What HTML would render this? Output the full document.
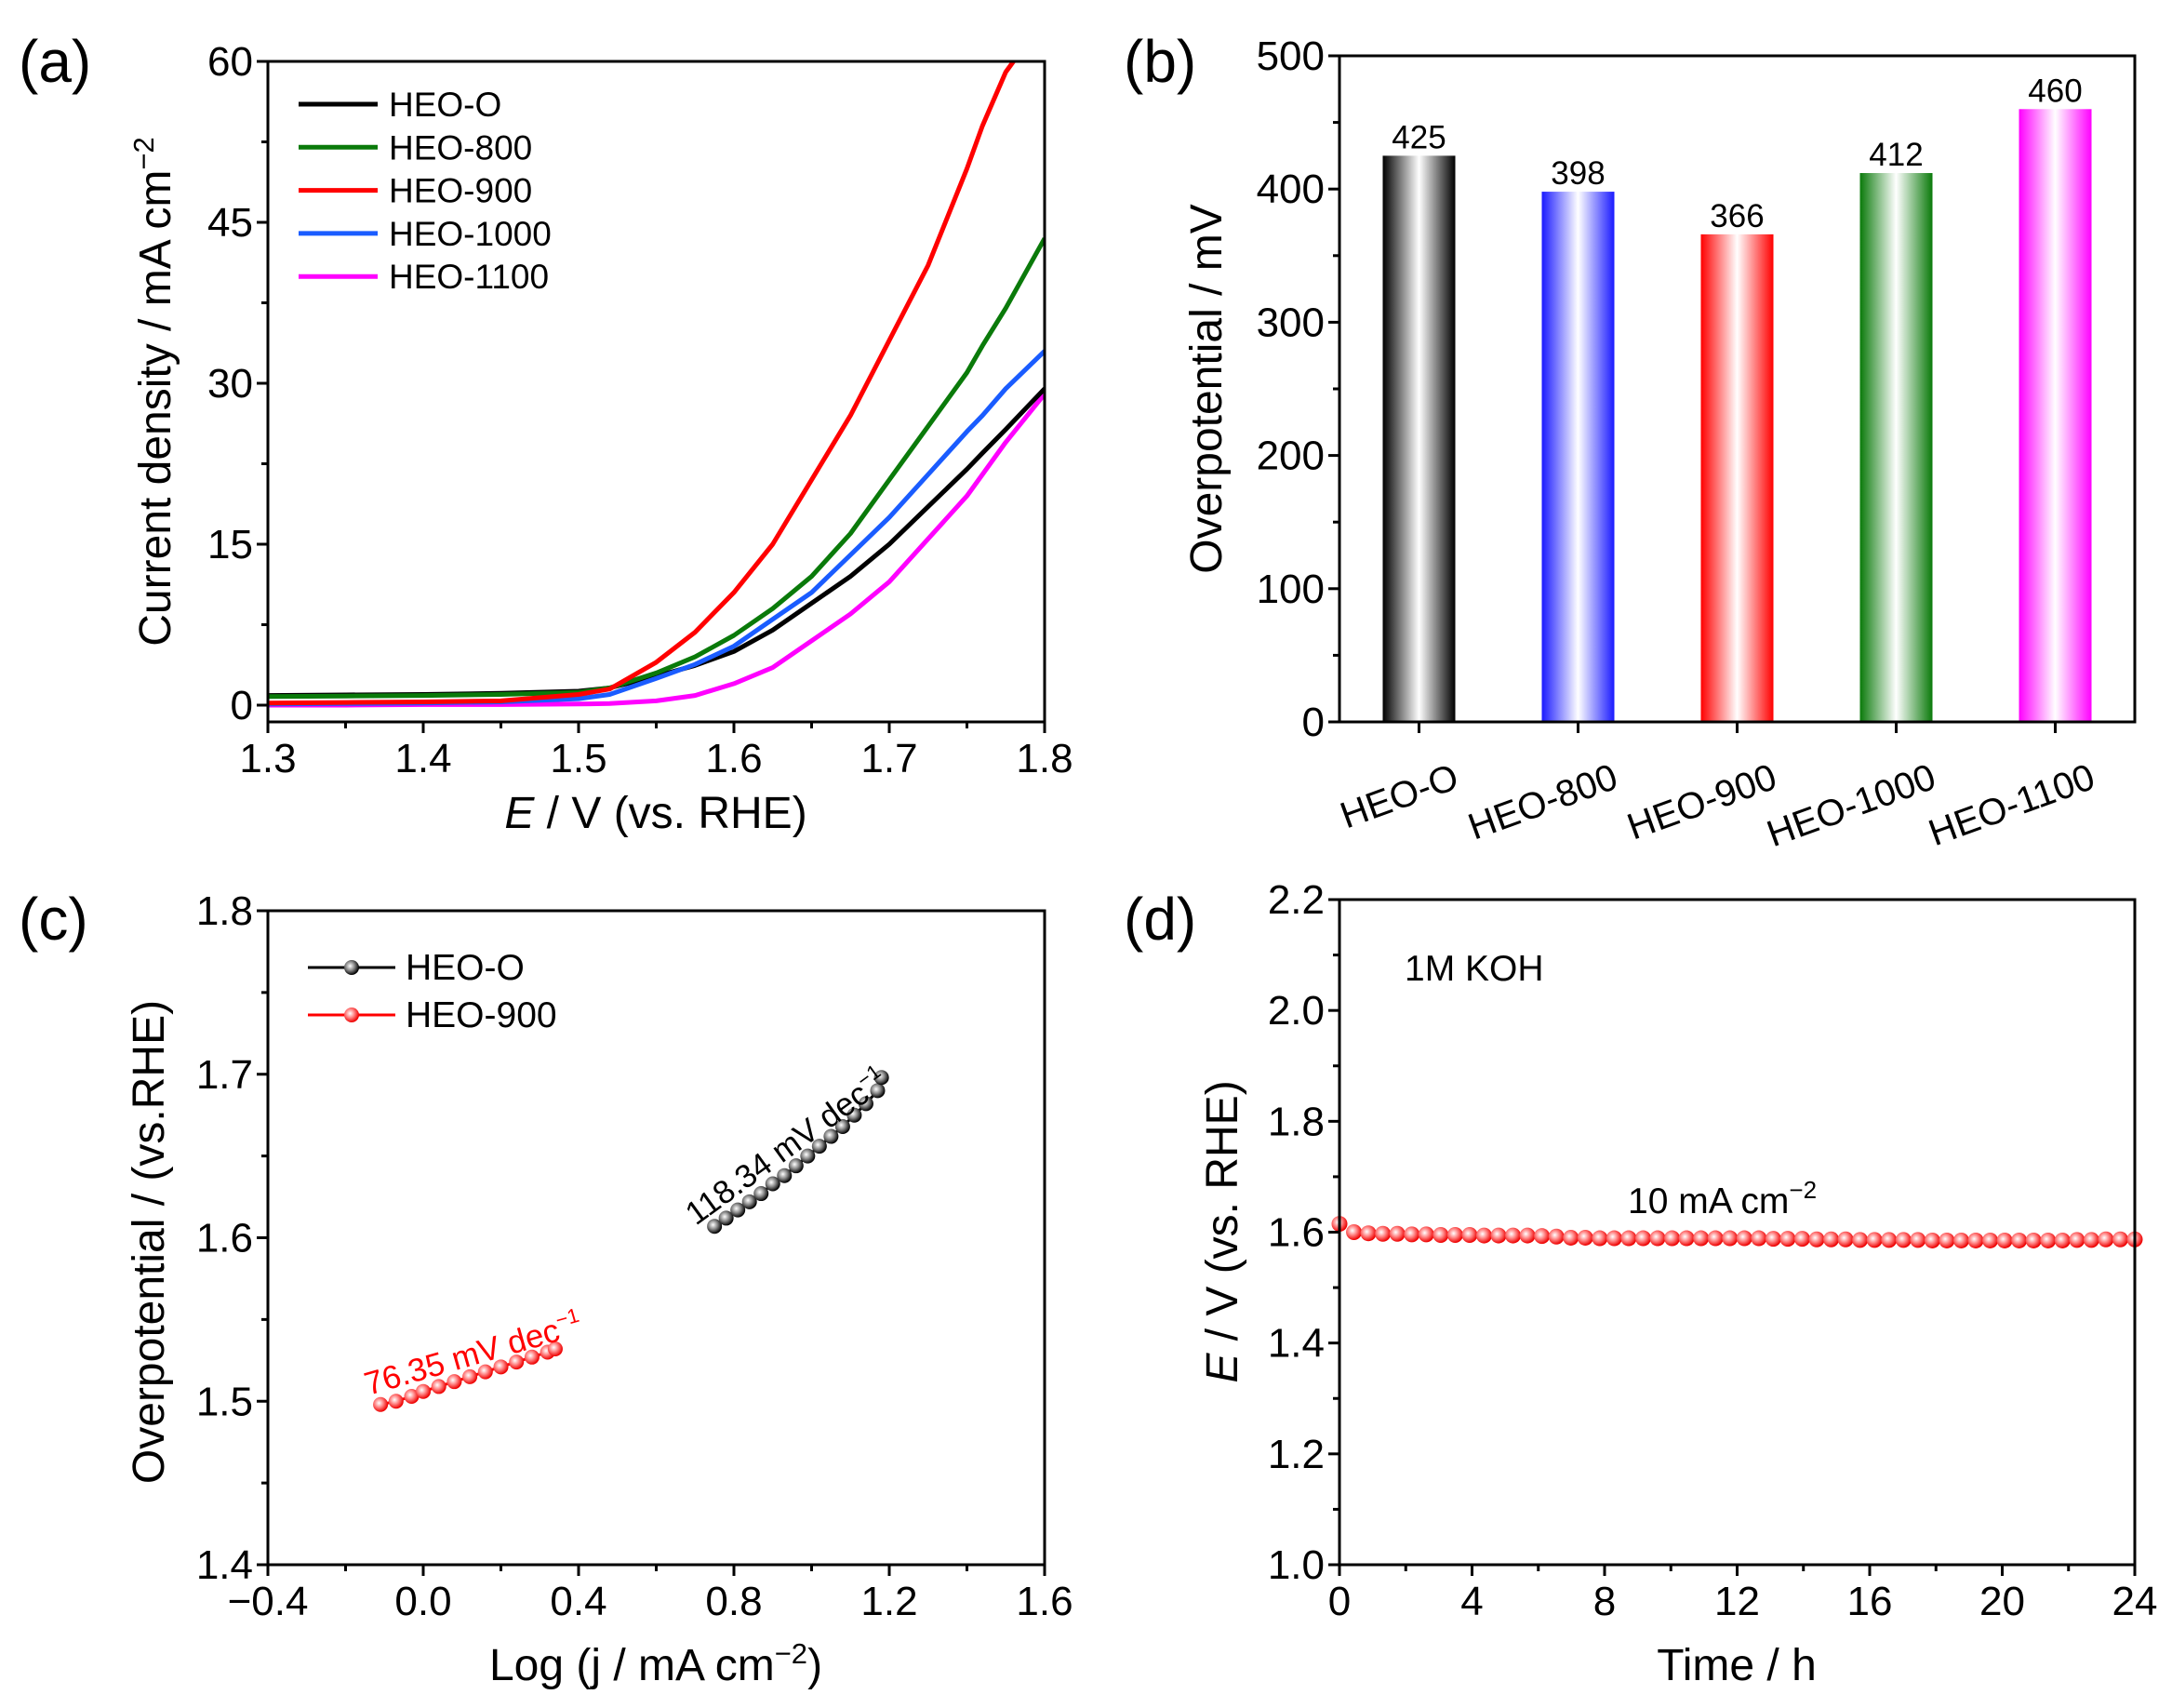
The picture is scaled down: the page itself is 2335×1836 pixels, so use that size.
<!DOCTYPE html>
<html><head><meta charset="utf-8"><style>
html,body{margin:0;padding:0;background:#fff}
svg{display:block;font-family:"Liberation Sans",Arial,sans-serif}
</style></head><body>
<svg id="fig" width="2335" height="1836" viewBox="0 0 2335 1836" xmlns="http://www.w3.org/2000/svg">
<defs>
<clipPath id="clipA"><rect x="288" y="66" width="835" height="710"/></clipPath>
<radialGradient id="ballR" cx="0.4" cy="0.4" r="0.6"><stop offset="0" stop-color="#fff"/><stop offset="0.5" stop-color="#ff8080"/><stop offset="1" stop-color="#e00"/></radialGradient>
<radialGradient id="ballK" cx="0.4" cy="0.4" r="0.6"><stop offset="0" stop-color="#fff"/><stop offset="0.5" stop-color="#888"/><stop offset="1" stop-color="#000"/></radialGradient>
<linearGradient id="gK"><stop offset="0" stop-color="#000"/><stop offset="0.5" stop-color="#fff"/><stop offset="1" stop-color="#000"/></linearGradient>
<linearGradient id="gB"><stop offset="0" stop-color="#1a1aff"/><stop offset="0.5" stop-color="#fff"/><stop offset="1" stop-color="#1a1aff"/></linearGradient>
<linearGradient id="gR"><stop offset="0" stop-color="#f00"/><stop offset="0.5" stop-color="#fff"/><stop offset="1" stop-color="#f00"/></linearGradient>
<linearGradient id="gG"><stop offset="0" stop-color="#0a7a0a"/><stop offset="0.5" stop-color="#fff"/><stop offset="1" stop-color="#0a7a0a"/></linearGradient>
<linearGradient id="gM"><stop offset="0" stop-color="#f0f"/><stop offset="0.5" stop-color="#fff"/><stop offset="1" stop-color="#f0f"/></linearGradient>
</defs>
</svg>
<script>
// ---- Panel (a) data ----
const lsvV = [1.3,1.35,1.4,1.45,1.5,1.52,1.55,1.575,1.6,1.625,1.65,1.675,1.7,1.725,1.75,1.76,1.775,1.8];
const lsvO = [0.9,0.95,1.0,1.1,1.3,1.6,2.7,3.7,5,7,9.5,12,15,18.5,22,23.5,25.7,29.5];
const lsv800 = [0.8,0.85,0.9,1.0,1.2,1.6,3,4.5,6.5,9,12,16,21,26,31,33.5,37,43.5];
const lsv900 = [0.2,0.25,0.3,0.4,1.0,1.5,4,6.8,10.5,15,21,27,34,41,50,54,59,64];
const lsv1000 = [0.1,0.15,0.2,0.3,0.6,1.0,2.5,3.8,5.5,8,10.5,14,17.5,21.5,25.5,27,29.5,33];
const lsv1100 = [0,0,0.05,0.05,0.1,0.15,0.4,0.9,2,3.5,6,8.5,11.5,15.5,19.5,21.5,24.5,29];
const lsvNames = ["HEO-O","HEO-800","HEO-900","HEO-1000","HEO-1100"];
// ---- Panel (b) data ----
const barCats = ["HEO-O","HEO-800","HEO-900","HEO-1000","HEO-1100"];
const barVals = [425,398,366,412,460];
// ---- Panel (c) data ----
const tafOx = [0.75,0.78,0.81,0.84,0.87,0.9,0.93,0.96,0.99,1.02,1.05,1.08,1.11,1.14,1.17,1.18];
const tafOy = [1.607,1.612,1.617,1.622,1.627,1.633,1.638,1.644,1.650,1.656,1.662,1.668,1.675,1.682,1.690,1.698];
const taf9x = [-0.11,-0.07,-0.03,0.0,0.04,0.08,0.12,0.16,0.2,0.24,0.28,0.32,0.34];
const taf9y = [1.498,1.500,1.503,1.506,1.509,1.512,1.515,1.518,1.521,1.524,1.527,1.530,1.532];
// ---- Panel (d) data ----
const stabVals = [1.615,1.600,1.598,1.597,1.597,1.596,1.596,1.595,1.595,1.595,1.594,1.594,1.594,1.594,1.593,1.592,1.590,1.590,1.589,1.589,1.589,1.589,1.589,1.589,1.589,1.589,1.589,1.589,1.589,1.589,1.588,1.588,1.588,1.587,1.587,1.587,1.586,1.586,1.586,1.586,1.586,1.585,1.585,1.585,1.585,1.585,1.585,1.585,1.585,1.585,1.585,1.586,1.586,1.587,1.587,1.587];

const NS="http://www.w3.org/2000/svg";
const svg=document.getElementById('fig');
function mk(tag,attrs,parent,text){const e=document.createElementNS(NS,tag);for(const k in attrs)e.setAttribute(k,attrs[k]);if(text!==undefined)e.textContent=text;(parent||svg).appendChild(e);return e;}
function lin(d0,d1,r0,r1){return v=>r0+(v-d0)/(d1-d0)*(r1-r0);}

function axes(g,L,R,T,B,xs,ys,xt,yt,xminor,yminor,xfmt,yfmt){
  const fr=mk('rect',{x:L,y:T,width:R-L,height:B-T,fill:'none',stroke:'#000','stroke-width':3},g);
  
  
  xt.forEach(v=>{const x=xs(v);mk('line',{x1:x,x2:x,y1:B,y2:B+12,stroke:'#000','stroke-width':3},g);
    const t=mk('text',{x:x,y:B+54,'font-size':44,'text-anchor':'middle'},g,xfmt(v));
    
    });
  xminor.forEach(v=>{const x=xs(v);mk('line',{x1:x,x2:x,y1:B,y2:B+7,stroke:'#000','stroke-width':3},g);});
  yt.forEach(v=>{const y=ys(v);mk('line',{x1:L,x2:L-12,y1:y,y2:y,stroke:'#000','stroke-width':3},g);
    const t=mk('text',{x:L-16,y:y+15,'font-size':44,'text-anchor':'end'},g,yfmt(v));
    
    });
  yminor.forEach(v=>{const y=ys(v);mk('line',{x1:L,x2:L-7,y1:y,y2:y,stroke:'#000','stroke-width':3},g);});
}
function panelLabel(x,y,s){const t=mk('text',{x:x,y:y,'font-size':64},svg,s);
  
  }

// ===== Panel a =====
{
const g=mk('g',{});


const L=288,R=1123,T=66,B=776;
const xs=lin(1.3,1.8,L,R), ys=lin(0,60,758,T);
const cols=['#000','#0a7a0a','#f00','#1a5cff','#f0f'];
const data=[lsvO,lsv800,lsv900,lsv1000,lsv1100];
const order=[4,0,3,1,2];
const cg=mk('g',{'clip-path':'url(#clipA)'},g);
order.forEach(i=>{
  let d='';lsvV.forEach((v,k)=>{d+=(k?'L':'M')+xs(v).toFixed(1)+','+ys(data[i][k]).toFixed(1);});
  const p=mk('path',{d:d,fill:'none',stroke:cols[i],'stroke-width':5,'stroke-linejoin':'round'},cg);
  
  
});
axes(g,L,R,T,B,xs,ys,[1.3,1.4,1.5,1.6,1.7,1.8],[0,15,30,45,60],[1.35,1.45,1.55,1.65,1.75],[7.5,22.5,37.5,52.5],v=>v.toFixed(1),v=>String(v));
lsvNames.forEach((n,i)=>{const y=112+i*46.3;
  const le=mk('g',{},g);
  
  
  mk('line',{x1:321,x2:406,y1:y,y2:y,stroke:cols[i],'stroke-width':5},le);
  mk('text',{x:418,y:y+13,'font-size':37},le,n);});
const yt=mk('text',{transform:'translate(183,421) rotate(-90)','font-size':48,'text-anchor':'middle'},g);


yt.innerHTML='Current density / mA cm<tspan dy="-18" font-size="31">−2</tspan>';
const xt=mk('text',{x:705,y:890,'font-size':48,'text-anchor':'middle'},g);


xt.innerHTML='<tspan font-style="italic">E</tspan> / V (vs. RHE)';
panelLabel(20,88,'(a)');
}
// ===== Panel b =====
{
const g=mk('g',{});


const L=1440,R=2295,T=60,B=776;
const xs=i=>L+(R-L)*(0.1+i*0.2), ys=lin(0,500,B,T);
const grads=['gK','gB','gR','gG','gM'];
barVals.forEach((v,i)=>{
  const r=mk('rect',{x:xs(i)-39,y:ys(v),width:78,height:B-ys(v),fill:'url(#'+grads[i]+')'},g);
  
  
  const t=mk('text',{x:xs(i),y:ys(v)-8,'font-size':35,'text-anchor':'middle'},g,String(v));
  
  
});
const fr=mk('rect',{x:L,y:T,width:R-L,height:B-T,fill:'none',stroke:'#000','stroke-width':3},g);
[0,100,200,300,400,500].forEach(v=>{const y=ys(v);mk('line',{x1:L,x2:L-12,y1:y,y2:y,stroke:'#000','stroke-width':3},g);
  const t=mk('text',{x:L-16,y:y+15,'font-size':44,'text-anchor':'end'},g,String(v));
  
  });
[50,150,250,350,450].forEach(v=>{const y=ys(v);mk('line',{x1:L,x2:L-7,y1:y,y2:y,stroke:'#000','stroke-width':3},g);});
barCats.forEach((c,i)=>{const x=xs(i);
  mk('line',{x1:x,x2:x,y1:B,y2:B+12,stroke:'#000','stroke-width':3},g);
  const t=mk('text',{transform:'translate('+(x+45)+','+(B+70)+') rotate(-20)','font-size':40,'text-anchor':'end'},g,c);
  
  });
const yt=mk('text',{transform:'translate(1313,418) rotate(-90)','font-size':48,'text-anchor':'middle'},g,'Overpotential / mV');


panelLabel(1208,88,'(b)');
}
// ===== Panel c =====
{
const g=mk('g',{});


const L=288,R=1123,T=979,B=1682;
const xs=lin(-0.4,1.6,L,R), ys=lin(1.4,1.8,B,T);
axes(g,L,R,T,B,xs,ys,[-0.4,0,0.4,0.8,1.2,1.6],[1.4,1.5,1.6,1.7,1.8],[-0.2,0.2,0.6,1.0,1.4],[1.45,1.55,1.65,1.75],v=>(v<0?'−':'')+Math.abs(v).toFixed(1),v=>v.toFixed(1));
function series(xa,ya,col,grad,name){
  let d='';xa.forEach((x,k)=>{d+=(k?'L':'M')+xs(x).toFixed(1)+','+ys(ya[k]).toFixed(1);});
  const p=mk('path',{d:d,fill:'none',stroke:col,'stroke-width':3},g);
  
  
  xa.forEach((x,k)=>{const c=mk('circle',{cx:xs(x),cy:ys(ya[k]),r:8,fill:'url(#'+grad+')'},g);
    
    });
}
series(tafOx,tafOy,'#000','ballK','heo-o');
series(taf9x,taf9y,'#f00','ballR','heo-900');
[['HEO-O','#000','ballK',1040],['HEO-900','#f00','ballR',1091]].forEach(e=>{
  const le=mk('g',{},g);
  
  
  mk('line',{x1:331,x2:425,y1:e[3],y2:e[3],stroke:e[1],'stroke-width':3},le);
  mk('circle',{cx:378,cy:e[3],r:8,fill:'url(#'+e[2]+')'},le);
  mk('text',{x:436,y:e[3]+13,'font-size':39},le,e[0]);});
const a1=mk('text',{transform:'translate(748,1318) rotate(-36)','font-size':35},g);


a1.innerHTML='118.34 mV dec<tspan dy="-14" font-size="22">−1</tspan>';
const a2=mk('text',{transform:'translate(396,1500) rotate(-16)','font-size':35,fill:'#f00'},g);


a2.innerHTML='76.35 mV dec<tspan dy="-14" font-size="22">−1</tspan>';
const yt=mk('text',{transform:'translate(176,1335) rotate(-90)','font-size':48,'text-anchor':'middle'},g,'Overpotential / (vs.RHE)');


const xt=mk('text',{x:705,y:1806,'font-size':48,'text-anchor':'middle'},g);


xt.innerHTML='Log (j / mA cm<tspan dy="-18" font-size="31">−2</tspan><tspan dy="18">)</tspan>';
panelLabel(20,1010,'(c)');
}
// ===== Panel d =====
{
const g=mk('g',{});


const L=1440,R=2295,T=967,B=1682;
const xs=lin(0,24,L,R), ys=lin(1.0,2.2,B,T);
const n=stabVals.length;
stabVals.forEach((v,k)=>{const c=mk('circle',{cx:xs(k*24/(n-1)),cy:ys(v),r:8.5,fill:'url(#ballR)'},g);
  
  });
axes(g,L,R,T,B,xs,ys,[0,4,8,12,16,20,24],[1.0,1.2,1.4,1.6,1.8,2.0,2.2],[2,6,10,14,18,22],[1.1,1.3,1.5,1.7,1.9,2.1],v=>String(v),v=>v.toFixed(1));
const k1=mk('text',{x:1510,y:1054,'font-size':39},g,'1M KOH');


const k2=mk('text',{x:1750,y:1304,'font-size':39},g);


k2.innerHTML='10 mA cm<tspan dy="-16" font-size="26">−2</tspan>';
const yt=mk('text',{transform:'translate(1330,1324) rotate(-90)','font-size':48,'text-anchor':'middle'},g);


yt.innerHTML='<tspan font-style="italic">E</tspan> / V (vs. RHE)';
const xt=mk('text',{x:1867,y:1806,'font-size':48,'text-anchor':'middle'},g,'Time / h');


panelLabel(1208,1010,'(d)');
}
</script>
</body></html>
